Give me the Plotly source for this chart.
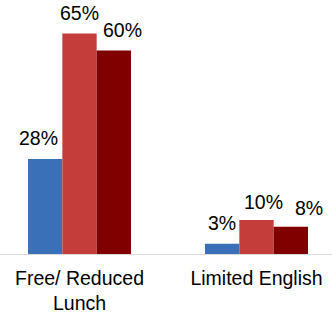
import plotly.graph_objects as go

categories = ["Free/ Reduced<br>Lunch", "Limited English"]
series_names = ["Series A", "Series B", "Series C"]
series_a = [28, 3]
series_b = [65, 10]
series_c = [60, 8]
values = [series_a, series_b, series_c]

colors = ["#3A70B7", "#C43D3A", "#800000"]
FONT = "Arial, Liberation Sans, sans-serif"
FS = 19.5

# styling: per-label pixel nudges (label placement like the original)
bar_px = 34.3
label_dx = [[-6.5, -0.5], [-0.5, 6.5], [8.5, 18.5]]
label_dy = [[0, 0], [0, -2], [0, -1.5]]

fig = go.Figure()
for name, vals, col in zip(series_names, values, colors):
    fig.add_trace(go.Bar(x=categories, y=vals, name=name, marker_color=col,
                         marker_line_width=0))

annotations = []
for i, vals in enumerate(values):
    for j, v in enumerate(vals):
        annotations.append(dict(
            x=categories[j], y=v, xref="x", yref="y",
            text=f"{v}%", showarrow=False, yanchor="bottom", xanchor="center",
            xshift=(i - 1) * bar_px + label_dx[i][j], yshift=7.5 + label_dy[i][j],
            font=dict(family=FONT, size=FS, color="#000000")))

fig.update_layout(
    width=332, height=314,
    margin=dict(l=0, r=0, t=0, b=58, pad=0),
    barmode="group", bargap=0.418, bargroupgap=0,
    showlegend=False,
    plot_bgcolor="white", paper_bgcolor="white",
    font=dict(family=FONT, size=FS, color="#000000"),
    annotations=annotations,
)
fig.update_xaxes(range=[-0.4492, 1.4266], showline=True, linecolor="#D9D9D9",
                 linewidth=1.3, ticks="", showgrid=False, zeroline=False,
                 ticklabelstandoff=6,
                 tickfont=dict(family=FONT, size=FS, color="#000000"))
fig.update_yaxes(range=[0, 74.85], visible=False, showgrid=False, zeroline=False)

fig.write_html("out.html", config={"displayModeBar": False},
               post_script="document.body.style.margin='0';document.body.style.overflow='hidden';")
